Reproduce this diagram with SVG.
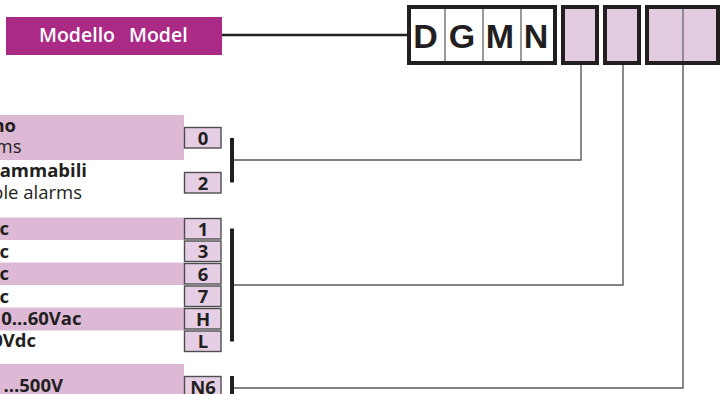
<svg xmlns="http://www.w3.org/2000/svg" width="723" height="394" viewBox="0 0 723 394">
<style>
.band{fill:#DDB9D6}
.code rect{fill:#E6CFE4;stroke:#4d4d4f;stroke-width:1.4}
.code text{font-family:"Open Sans","Noto Sans",sans-serif;font-weight:700;font-size:18.5px;fill:#231f20;text-anchor:middle}
.lbl{font-family:"Open Sans","Noto Sans",sans-serif;font-size:18.5px;fill:#231f20;text-anchor:end}
.b{font-weight:700}
.thick{fill:none;stroke:#231f20;stroke-width:4}
.div{stroke:#6d6e71;stroke-width:1.4}
.slot{fill:#E3CBE0;stroke:#231f20;stroke-width:4}
.bar{fill:#231f20}
.wire{fill:none;stroke:#58595b;stroke-width:1.4}
.big{font-family:"Liberation Sans",Arial,sans-serif;font-weight:700;font-size:34px;fill:#231f20;text-anchor:middle}
</style>
<g id="model-header">
<rect x="6" y="17" width="216" height="38" fill="#AA2A86"/>
<text font-family="'Open Sans','Noto Sans',sans-serif" font-weight="600" font-size="19.5" fill="#ffffff" y="42"><tspan x="39">Modello</tspan><tspan x="129">Model</tspan></text>
</g>
<g id="code-box">
<rect class="thick" x="409" y="7" width="146" height="56" fill="#ffffff"/>
<line class="div" x1="445" y1="9" x2="445" y2="61"/>
<line class="div" x1="483" y1="9" x2="483" y2="61"/>
<line class="div" x1="521" y1="9" x2="521" y2="61"/>
<text class="big" x="425.5" y="47.5">D</text>
<text class="big" x="462" y="47.5">G</text>
<text class="big" x="500" y="47.5">M</text>
<text class="big" x="536" y="47.5">N</text>
</g>
<g id="slot-1"><rect class="slot" x="563" y="7" width="34" height="56"/></g>
<g id="slot-2"><rect class="slot" x="605" y="7" width="34" height="56"/></g>
<g id="slot-3"><rect class="slot" x="647" y="7" width="71" height="56"/><line class="div" x1="683" y1="9" x2="683" y2="61"/></g>

<g id="group-alarms">
<rect class="band" x="0" y="115" width="184" height="45"/>
<text class="lbl b" x="16" y="131.5">no</text>
<text class="lbl" x="21.5" y="153">ms</text>
<text class="lbl b" x="87" y="177">rammabili</text>
<text class="lbl" x="82" y="198.5">ble alarms</text>
<g class="code"><rect x="184.5" y="127.5" width="36.5" height="20.5"/><text x="203" y="144.5">0</text></g>
<g class="code"><rect x="184.5" y="172.5" width="36.5" height="20.5"/><text x="203" y="189.5">2</text></g>
<rect class="bar" x="230" y="138" width="4" height="44.5"/>
</g>

<g id="group-supply">
<rect class="band" x="0" y="217.5" width="184" height="22.5"/>
<rect class="band" x="0" y="262.5" width="184" height="22.5"/>
<rect class="band" x="0" y="307.5" width="184" height="23"/>
<text class="lbl b" x="9" y="235">c</text>
<text class="lbl b" x="9" y="257.5">ac</text>
<text class="lbl b" x="9" y="280">ac</text>
<text class="lbl b" x="9" y="302.5">ac</text>
<text class="lbl b" x="81.5" y="325">0…60Vac</text>
<text class="lbl b" x="36" y="346.5">0Vdc</text>
<g class="code"><rect x="184.5" y="218.5" width="36.5" height="20.5"/><text x="203" y="235.5">1</text></g>
<g class="code"><rect x="184.5" y="241" width="36.5" height="20.5"/><text x="203" y="258">3</text></g>
<g class="code"><rect x="184.5" y="263.5" width="36.5" height="20.5"/><text x="203" y="280.5">6</text></g>
<g class="code"><rect x="184.5" y="286" width="36.5" height="20.5"/><text x="203" y="303">7</text></g>
<g class="code"><rect x="184.5" y="308.5" width="36.5" height="20.5"/><text x="203" y="325.5">H</text></g>
<g class="code"><rect x="184.5" y="331" width="36.5" height="20.5"/><text x="203" y="348">L</text></g>
<rect class="bar" x="230" y="228.5" width="4" height="113"/>
</g>

<g id="group-voltage">
<rect class="band" x="0" y="364" width="184" height="30"/>
<text class="lbl b" x="63" y="392">…500V</text>
<g class="code"><rect x="184.5" y="376.5" width="36.5" height="20.5"/><text x="203" y="393.5">N6</text></g>
<rect class="bar" x="230" y="376" width="4" height="20"/>
</g>

<g id="connectors">
<line class="wire" x1="222" y1="35" x2="407" y2="35" style="stroke:#231f20;stroke-width:2.4"/>
<polyline class="wire" points="581,65 581,160 234,160"/>
<polyline class="wire" points="623,65 623,285 234,285"/>
<polyline class="wire" points="683,65 683,388 234,388"/>
</g>
</svg>
